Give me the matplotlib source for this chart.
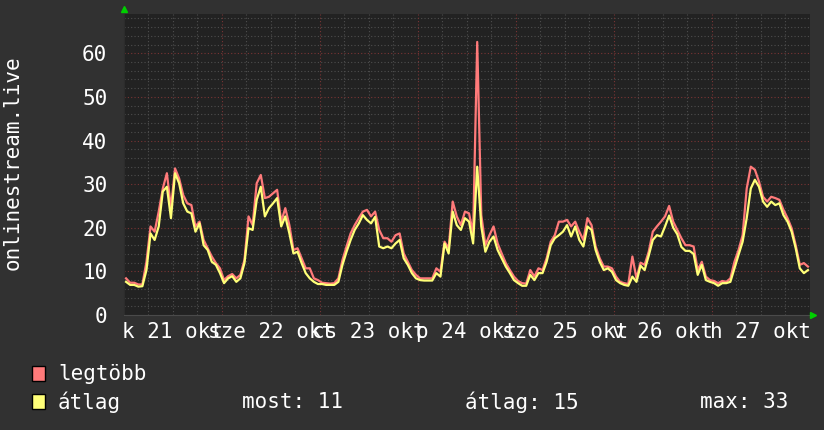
import numpy as np
import matplotlib
matplotlib.use("Agg")
from matplotlib import pyplot as plt
from matplotlib.patches import Rectangle

# hourly values, 21 okt 00:00 .. 27 okt 23:00
legtobb = [
    8.4, 7.4, 7.4, 7.0, 7.0, 12.2, 20.3, 19.1, 23.7, 29.0, 32.5, 24.5, 33.6, 31.3, 27.5, 25.6, 25.2, 20.3, 21.4, 17.2, 15.3, 13.4, 11.9, 10.7,
    8.0, 8.9, 9.4, 8.4, 9.2, 12.6, 22.6, 20.6, 30.2, 32.1, 26.8, 27.1, 27.9, 28.7, 21.4, 24.5, 20.6, 14.9, 15.3, 13.0, 10.7, 10.7, 8.4, 8.0,
    7.4, 7.3, 7.2, 7.3, 8.4, 12.6, 15.7, 18.7, 20.6, 22.2, 23.7, 24.1, 22.6, 23.7, 19.5, 17.6, 17.6, 16.8, 18.3, 18.7, 14.1, 12.2, 10.3, 9.2,
    8.4, 8.4, 8.4, 8.4, 10.7, 9.9, 16.8, 15.3, 26.0, 22.6, 20.6, 23.7, 23.3, 18.7, 62.6, 22.9, 16.0, 18.3, 20.3, 16.4, 14.1, 11.9, 10.3, 8.8,
    7.8, 7.3, 7.2, 10.3, 8.8, 10.7, 10.3, 13.0, 16.8, 18.3, 21.4, 21.4, 21.8, 20.3, 21.4, 19.1, 17.2, 22.2, 20.6, 15.7, 13.0, 11.1, 11.1, 10.7,
    8.8, 7.6, 7.3, 7.1, 13.4, 8.4, 12.0, 11.5, 14.5, 19.1, 20.3, 21.4, 22.6, 25.0, 21.4, 19.5, 17.6, 16.0, 16.0, 15.7, 10.3, 12.2, 8.8, 8.0,
    7.8, 7.3, 7.8, 7.6, 8.4, 12.2, 14.9, 18.3, 29.0, 34.0, 33.3, 30.6, 27.1, 26.0, 27.1, 26.8, 26.4, 24.1, 22.2, 19.9, 16.0, 11.5, 11.9, 11.1,
]
atlag = [
    7.6, 6.9, 6.9, 6.5, 6.6, 10.3, 18.7, 17.2, 20.3, 28.3, 29.4, 22.2, 32.5, 30.2, 25.6, 23.7, 23.3, 19.1, 21.0, 16.0, 14.9, 12.2, 11.5, 9.6,
    7.3, 8.4, 8.9, 7.6, 8.4, 11.9, 19.9, 19.5, 26.4, 29.4, 22.6, 24.5, 25.6, 26.8, 20.3, 22.6, 18.7, 14.1, 14.5, 11.9, 9.6, 8.4, 7.6, 7.1,
    7.1, 6.9, 6.9, 6.9, 7.6, 11.5, 14.5, 17.2, 19.5, 21.0, 22.9, 21.8, 21.0, 22.5, 15.7, 15.3, 15.7, 15.3, 16.4, 17.2, 13.0, 11.5, 9.6, 8.4,
    8.0, 7.9, 7.9, 7.9, 9.6, 8.8, 16.4, 14.1, 23.7, 20.6, 19.5, 22.2, 21.4, 16.4, 34.0, 20.3, 14.5, 16.8, 18.0, 14.9, 13.0, 11.1, 9.6, 8.0,
    7.3, 6.7, 6.7, 9.2, 8.0, 9.6, 9.6, 12.2, 16.0, 17.6, 18.3, 19.1, 20.6, 18.0, 20.3, 17.2, 15.7, 20.3, 19.5, 14.9, 12.2, 10.3, 10.7, 9.9,
    8.0, 7.3, 6.9, 6.7, 8.8, 7.6, 11.3, 10.3, 13.6, 17.2, 18.3, 18.0, 20.3, 22.8, 20.0, 18.5, 15.6, 14.7, 14.7, 14.0, 9.2, 11.5, 8.0, 7.6,
    7.3, 6.7, 7.3, 7.3, 7.6, 10.7, 13.8, 16.8, 22.2, 29.0, 31.0, 29.4, 26.0, 24.8, 26.0, 25.2, 25.6, 22.9, 21.4, 19.1, 15.3, 10.7, 9.6, 10.3,
]
day_labels = ["k 21 okt", "sze 22 okt", "cs 23 okt", "p 24 okt", "szo 25 okt", "v 26 okt", "h 27 okt"]
stats = ["most: 11", "átlag: 15", "max: 33"]

font = "DejaVu Sans Mono"
bg = "#313131"
plot_bg = "#222222"
red = "#ff7a7a"
yellow = "#ffff78"

W, H = 824, 430
fig = plt.figure(figsize=(W / 100, H / 100), dpi=100, facecolor=bg)
ax = fig.add_axes([124 / W, 1 - 315 / H, 686 / W, 301 / H], facecolor=plot_bg)

hours = np.arange(len(atlag)) + 0.5
ax.plot(hours, legtobb, color=red, lw=1.6, zorder=3)
ax.plot(hours, atlag, color=yellow, lw=1.6, zorder=4)

ax.set_xlim(0, 168)
ax.set_ylim(0, 69)

# grid
for y in range(2, 69, 2):
    c = "#7a3434" if y % 10 == 0 else "#4e4e4e"
    ax.axhline(y, color=c, lw=0.8, ls=(0, (1, 2)), zorder=1)
for x in range(6, 168, 6):
    c = "#7a3434" if x % 24 == 0 else "#4e4e4e"
    ax.axvline(x, color=c, lw=0.8, ls=(0, (1, 2)), zorder=1)

ax.set_yticks(range(0, 61, 10))
ax.set_yticklabels([str(v) for v in range(0, 61, 10)], fontfamily=font, fontsize=15, color="white")
ax.tick_params(axis="y", length=0, pad=12)
ax.set_xticks([])
for i, lab in enumerate(day_labels):
    ax.text(12 + 24 * i, -0.055, lab, transform=ax.get_xaxis_transform(), ha="center", va="center",
            fontfamily=font, fontsize=15, color="white")

for s in ax.spines.values():
    s.set_visible(False)
ax.spines["bottom"].set_visible(True)
ax.spines["bottom"].set_color("#4a4a4a")
ax.spines["left"].set_visible(True)
ax.spines["left"].set_color("#2c2c2c")

# little green arrows at axis ends
ax.plot([0], [70.2], marker="^", color="#00d000", ms=5, clip_on=False, zorder=5)
ax.plot([168.8], [0], marker=">", color="#00d000", ms=5, clip_on=False, zorder=5)

fig.text(13 / W, 1 - 163 / H, "onlinestream.live", rotation=90, ha="center", va="center",
         fontfamily=font, fontsize=15, color="white")

# legend
for row, (c, name) in enumerate([(red, "legtöbb"), (yellow, "átlag")]):
    y0 = 366 + 28 * row
    fig.patches.append(Rectangle((32 / W, 1 - (y0 + 15) / H), 13 / W, 15 / H, transform=fig.transFigure,
                                 facecolor=c, edgecolor="black", lw=1))
    fig.text(58 / W, 1 - (y0 + 8) / H, name, ha="left", va="center", fontfamily=font, fontsize=15, color="white")
for x, s in zip([242, 465, 700], stats):
    fig.text(x / W, 1 - 402 / H, s, ha="left", va="center", fontfamily=font, fontsize=15, color="white")

fig.savefig("out.png", dpi=100, facecolor=bg)
